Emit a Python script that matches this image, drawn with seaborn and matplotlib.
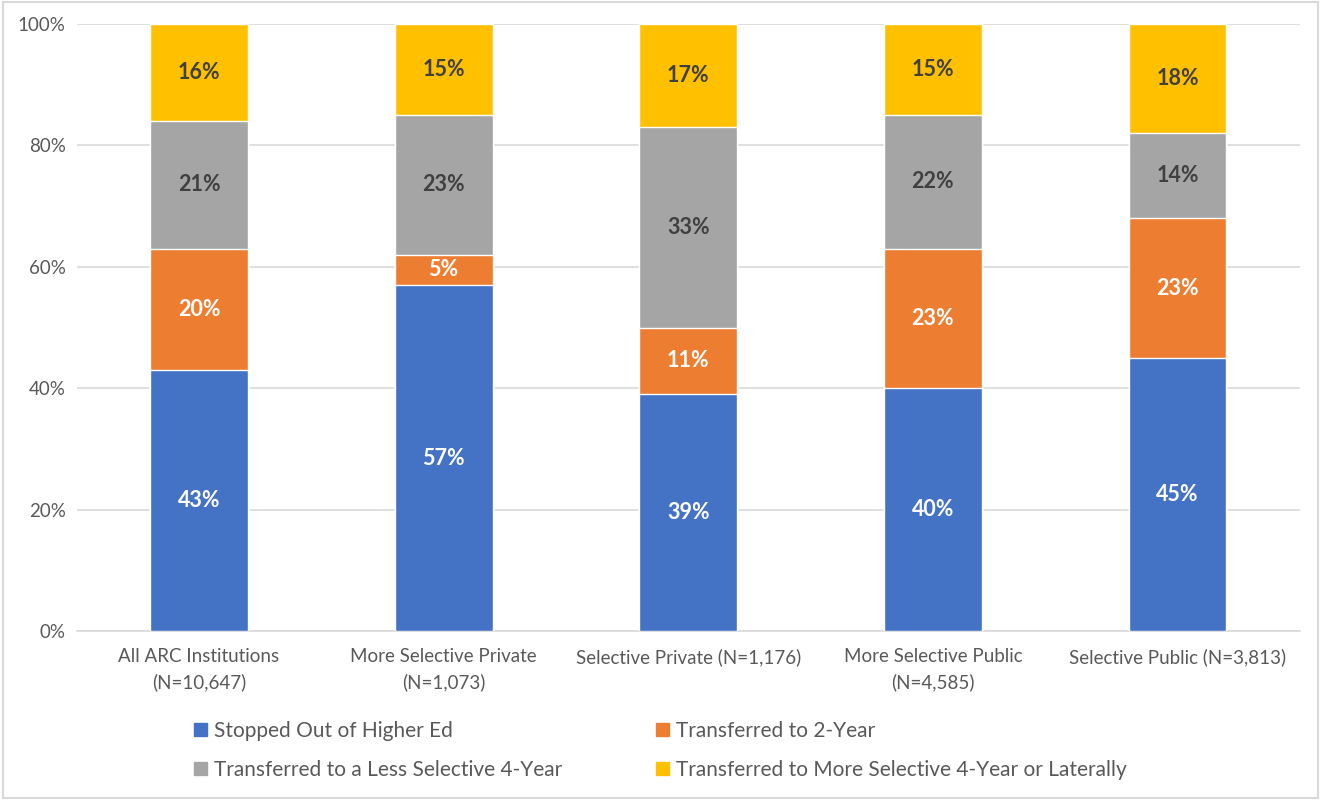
import matplotlib
matplotlib.use("Agg")
import matplotlib.pyplot as plt
from matplotlib.patches import Rectangle
import numpy as np
import pandas as pd
import seaborn as sns

# Institution groups (x axis)
categories = [
    "All ARC Institutions\n(N=10,647)",
    "More Selective Private\n(N=1,073)",
    "Selective Private (N=1,176)",
    "More Selective Public\n(N=4,585)",
    "Selective Public (N=3,813)",
]

# Outcome series, percentages (stacked bottom to top)
series_names = [
    "Stopped Out of Higher Ed",
    "Transferred to 2-Year",
    "Transferred to a Less Selective 4-Year",
    "Transferred to More Selective 4-Year or Laterally",
]
stopped_out = [43, 57, 39, 40, 45]
to_two_year = [20, 5, 11, 23, 23]
less_selective = [21, 23, 33, 22, 14]
more_selective = [16, 15, 17, 15, 18]

yticks = [0, 20, 40, 60, 80, 100]

colors = ["#4472C4", "#ED7D31", "#A5A5A5", "#FFC000"]
label_colors = ["white", "white", "#404040", "#404040"]

sns.set_theme(style="white")
plt.rcParams["font.family"] = ["Lato", "DejaVu Sans"]

values = np.array([stopped_out, to_two_year, less_selective, more_selective], dtype=float)
cumulative = np.cumsum(values, axis=0)

rows = []
for s, name in enumerate(series_names):
    for c, cat in enumerate(categories):
        rows.append({"category": cat, "series": name,
                     "value": values[s, c], "top": cumulative[s, c]})
df = pd.DataFrame(rows)

fig = plt.figure(figsize=(13.21, 8.0), dpi=100)
ax = fig.add_axes([0.058, 0.211, 0.926, 0.759])

# Draw cumulative totals from the tallest layer down so each stack shows its segments
for s in reversed(range(len(series_names))):
    sub = df[df["series"] == series_names[s]]
    sns.barplot(data=sub, x="category", y="top", color=colors[s], width=0.4,
                saturation=1, ax=ax, order=categories, errorbar=None, zorder=3)

# Segment value labels
for s in range(len(series_names)):
    for c in range(len(categories)):
        v = values[s, c]
        mid = cumulative[s, c] - v / 2
        ax.text(c, mid, f"{int(round(v))}%", ha="center", va="center",
                fontsize=15.5, fontweight="bold", color=label_colors[s], zorder=5)

ax.set_ylim(0, 100)
ax.set_xlim(-0.5, len(categories) - 0.5)
ax.set_yticks(yticks)
ax.set_yticklabels([f"{t}%" for t in yticks])
ax.yaxis.grid(True, color="#D9D9D9", linewidth=1.2, zorder=0)
ax.set_axisbelow(True)
ax.set_xlabel("")
ax.set_ylabel("")
for side in ["top", "right", "left"]:
    ax.spines[side].set_visible(False)
ax.spines["bottom"].set_color("#D9D9D9")
ax.spines["bottom"].set_linewidth(1.2)
ax.tick_params(axis="both", length=0, labelsize=13.5, colors="#595959", pad=8)
ax.tick_params(axis="x", pad=12)
for lbl in ax.get_xticklabels():
    lbl.set_linespacing(1.55)

handles = [Rectangle((0, 0), 1, 1, color=col) for col in colors]
order = [0, 2, 1, 3]
leg = fig.legend([handles[i] for i in order], [series_names[i] for i in order],
                 ncol=2, loc="upper left", bbox_to_anchor=(0.133, 0.122),
                 frameon=False, fontsize=15, handlelength=0.6, handleheight=0.6,
                 handletextpad=0.35, columnspacing=4.5, labelspacing=0.9,
                 labelcolor="#595959")

# Chart area border
fig.patches.append(Rectangle((0.002, 0.002), 0.996, 0.996, transform=fig.transFigure,
                             fill=False, edgecolor="#D9D9D9", linewidth=1.5))

fig.savefig("out.png", dpi=100, facecolor="white")
